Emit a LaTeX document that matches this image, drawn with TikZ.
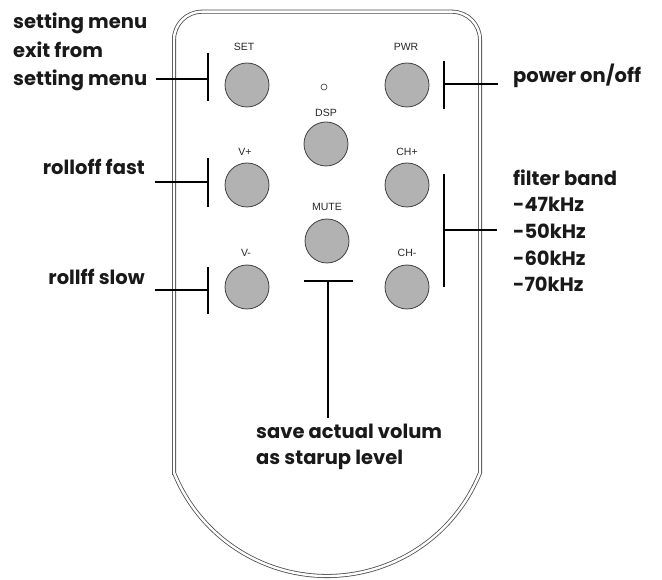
\documentclass[tikz,border=0pt]{standalone}
\usepackage{fontspec}
\setmainfont{Poppins}
\newfontfamily\keyfont{Liberation Sans}
\begin{document}
\begin{tikzpicture}[x=1pt,y=1pt,
  body/.style={draw=black!70,double=white,double distance=2.4pt,line width=0.8pt},
  keybtn/.style={circle,draw=black!75,fill=black!30,line width=0.8pt,minimum size=44pt,inner sep=0pt},
  keylbl/.style={font=\keyfont\fontsize{10.5}{12}\selectfont,text=black!85,inner sep=0pt},
  lead/.style={line width=2.2pt,black},
  desc/.style={font=\fontsize{19.5}{22}\selectfont\bfseries,text=black!90,inner sep=0pt}]
\useasboundingbox (0,0) rectangle (662,579);
% body
\draw[body] (174,106.2) -- (174,539.3) arc[start angle=180,end angle=90,radius=28pt]
  -- (452,567.3) arc[start angle=90,end angle=0,radius=28pt]
  -- (480,106.2) arc[start angle=338,end angle=202,radius=165pt] -- cycle;
% buttons
\node[keybtn] (set) at (247,494) {};
\node[keybtn] (pwr) at (407,494) {};
\node[keybtn] (dsp) at (326,435) {};
\node[keybtn] (vp) at (247,394) {};
\node[keybtn] (chp) at (407,394) {};
\node[keybtn] (mute) at (327,338) {};
\node[keybtn] (vm) at (247,292) {};
\node[keybtn] (chm) at (407,292) {};
\node[circle,draw=black!80,line width=0.6pt,minimum size=6pt,inner sep=0pt] (led) at (324,492) {};
% key labels
\node[keylbl] (lset) at (244,532) {SET};
\node[keylbl] (lpwr) at (406,532) {PWR};
\node[keylbl] (ldsp) at (326,466) {DSP};
\node[keylbl] (lvp) at (245,427) {V+};
\node[keylbl] (lchp) at (407,427) {CH+};
\node[keylbl] (lmute) at (327,372) {MUTE};
\node[keylbl] (lvm) at (246,326) {V-};
\node[keylbl] (lchm) at (407,326) {CH-};
% leader coordinates
\coordinate (setbt) at (208,526); \coordinate (setbb) at (208,478); \coordinate (setm) at (208,500); \coordinate (sete) at (156,500);
\coordinate (vpbt) at (208,421); \coordinate (vpbb) at (208,372); \coordinate (vpm) at (208,397); \coordinate (vpe) at (155,397);
\coordinate (vmbt) at (208,312); \coordinate (vmbb) at (208,265); \coordinate (vmm) at (208,289); \coordinate (vme) at (155,289);
\coordinate (pwbt) at (444,518); \coordinate (pwbb) at (444,470); \coordinate (pwm) at (444,495); \coordinate (pwe) at (498,495);
\coordinate (flbt) at (444,405); \coordinate (flbb) at (444,292); \coordinate (flm) at (444,349); \coordinate (fle) at (497,349);
\coordinate (mubl) at (304,298); \coordinate (mubr) at (353,298); \coordinate (mum) at (328,298); \coordinate (mue) at (328,161);
\draw[lead] (setbt) -- (setbb); \draw[lead] (setm) -- (sete);
\draw[lead] (vpbt) -- (vpbb); \draw[lead] (vpm) -- (vpe);
\draw[lead] (vmbt) -- (vmbb); \draw[lead] (vmm) -- (vme);
\draw[lead] (pwbt) -- (pwbb); \draw[lead] (pwm) -- (pwe);
\draw[lead] (flbt) -- (flbb); \draw[lead] (flm) -- (fle);
\draw[lead] (mubl) -- (mubr); \draw[lead] (mum) -- (mue);
% descriptions
\node[desc,anchor=base west] (t1) at (13,550) {setting menu};
\node[desc,anchor=base west] (t2) at (13,521) {exit from};
\node[desc,anchor=base west] (t3) at (13,493) {setting menu};
\node[desc,anchor=base east] (t4) at (145,404) {rolloff fast};
\node[desc,anchor=base east] (t5) at (145,294) {rollff slow};
\node[desc,anchor=base west] (t6) at (513,496) {power on/off};
\node[desc,anchor=base west] (t7) at (513,393) {filter band};
\node[desc,anchor=base west] (t8) at (513,367) {-47kHz};
\node[desc,anchor=base west] (t9) at (513,340) {-50kHz};
\node[desc,anchor=base west] (t10) at (513,313) {-60kHz};
\node[desc,anchor=base west] (t11) at (513,287) {-70kHz};
\node[desc,anchor=base west] (t12) at (256,140) {save actual volum};
\node[desc,anchor=base west] (t13) at (256,114) {as starup level};
\end{tikzpicture}
\end{document}
